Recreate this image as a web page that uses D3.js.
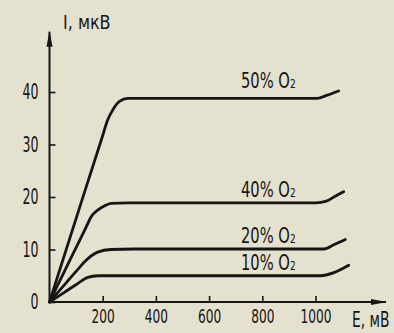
<!DOCTYPE html>
<html>
<head>
<meta charset="utf-8">
<script src="https://cdn.jsdelivr.net/npm/d3@7"></script>
<style>
  html, body { margin: 0; padding: 0; background: #e5e1cf; }
  svg { display: block; }
  text { font-family: "DejaVu Sans", sans-serif; fill: #151515; }
</style>
</head>
<body>
<div id="chart"></div>
<script>
// E, mV (x) and I, uV (y) for each O2 level
const e50 = [0, 122, 195, 219, 238, 263, 294, 600, 1006, 1044, 1087];
const i50 = [0, 19.4, 30.9, 34.7, 36.6, 38.2, 38.8, 38.8, 38.8, 39.4, 40.2];
const e40 = [0, 78, 140, 156, 181, 206, 231, 294, 1000, 1041, 1069, 1106];
const i40 = [0, 8.1, 14.5, 16.2, 17.5, 18.3, 18.8, 18.9, 18.9, 19.2, 20.0, 21.0];
const e20 = [0, 65, 115, 131, 181, 231, 319, 1031, 1069, 1112];
const i20 = [0, 3.8, 6.7, 7.6, 9.5, 10.0, 10.1, 10.1, 10.9, 11.9];
const e10 = [0, 53, 92, 106, 144, 181, 256, 1019, 1069, 1125];
const i10 = [0, 1.75, 3.04, 3.5, 4.7, 5.0, 5.0, 5.0, 5.6, 7.0];

const seriesNames = ['50%', '40%', '20%', '10%'];
const labelLevel = [40.8, 20.0, 11.2, 6.1]; // I where each label sits
const labelE = 720;

const xTicks = [200, 400, 600, 800, 1000];
const yTicks = [0, 10, 20, 30, 40];
const xAxisEnd = 1265;
const yAxisEnd = 51.5;

let width = 394;
let height = 333;

let svg = d3.select('#chart')
    .append('svg')
    .attr('width', width)
    .attr('height', height);

let xScale = d3.scaleLinear().domain([0, 1000]).range([49.5, 315.5]);
let yScale = d3.scaleLinear().domain([0, 40]).range([302, 92]);

let defs = svg.append('defs');
defs.append('marker')
    .attr('id', 'arrow')
    .attr('markerUnits', 'userSpaceOnUse')
    .attr('viewBox', '0 -4 16 8')
    .attr('refX', 15)
    .attr('refY', 0)
    .attr('markerWidth', 16)
    .attr('markerHeight', 8)
    .attr('orient', 'auto')
    .append('path')
    .attr('d', 'M0,-3L16,0L0,3Z')
    .attr('fill', '#151515');

// axes
let xAxis = d3.axisBottom(xScale)
    .tickValues(xTicks)
    .tickFormat(d3.format('d'))
    .tickSizeInner(-6)
    .tickSizeOuter(0)
    .tickPadding(8);
let yAxis = d3.axisLeft(yScale)
    .tickValues(yTicks)
    .tickFormat(d3.format('d'))
    .tickSizeInner(-6)
    .tickSizeOuter(0);

let xAxisGroup = svg.append('g')
    .attr('transform', `translate(0,${yScale(0)})`)
    .call(xAxis);
let yAxisGroup = svg.append('g')
    .attr('transform', `translate(${xScale(0)},0)`)
    .call(yAxis);

[xAxisGroup, yAxisGroup].forEach(g => {
    g.select('.domain').remove();
    g.selectAll('.tick line').attr('stroke', '#151515').attr('stroke-width', 1.6);
    g.selectAll('.tick text')
        .style('font-family', '"DejaVu Sans", sans-serif')
        .attr('fill', '#151515');
});
xAxisGroup.selectAll('.tick text')
    .attr('font-size', 19)
    .attr('transform', 'scale(0.64,1)');
yAxisGroup.selectAll('.tick text')
    .attr('font-size', 21)
    .attr('x', -11 / 0.6)
    .attr('transform', 'scale(0.6,1)');

svg.append('line')
    .attr('x1', xScale(0)).attr('y1', yScale(0))
    .attr('x2', xScale(xAxisEnd)).attr('y2', yScale(0))
    .attr('stroke', '#151515').attr('stroke-width', 2)
    .attr('marker-end', 'url(#arrow)');
svg.append('line')
    .attr('x1', xScale(0)).attr('y1', yScale(0))
    .attr('x2', xScale(0)).attr('y2', yScale(yAxisEnd))
    .attr('stroke', '#151515').attr('stroke-width', 2)
    .attr('marker-end', 'url(#arrow)');

// axis titles
svg.append('text')
    .attr('transform', 'translate(63,29) scale(0.8,1)')
    .attr('font-size', 20)
    .text('I, мкВ');
svg.append('text')
    .attr('transform', 'translate(352,327) scale(0.66,1)')
    .attr('font-size', 21)
    .text('E, мВ');

// curves
let series = [
    d3.zip(e50, i50),
    d3.zip(e40, i40),
    d3.zip(e20, i20),
    d3.zip(e10, i10)
];
let line = d3.line()
    .x(d => xScale(d[0]))
    .y(d => yScale(d[1]))
    .curve(d3.curveMonotoneX);

svg.append('g')
    .selectAll('path')
    .data(series)
    .enter()
    .append('path')
    .attr('d', line)
    .attr('fill', 'none')
    .attr('stroke', '#151515')
    .attr('stroke-width', 2.8)
    .attr('stroke-linejoin', 'round')
    .attr('stroke-linecap', 'round');

let labels = svg.append('g')
    .selectAll('text')
    .data(seriesNames)
    .enter()
    .append('text')
    .attr('transform', (d, i) => `translate(${xScale(labelE)},${yScale(labelLevel[i])}) scale(0.7,1)`)
    .attr('font-size', 21);
labels.append('tspan').text(d => d + ' O');
labels.append('tspan').attr('font-size', 13).text('2');
</script>
</body>
</html>
